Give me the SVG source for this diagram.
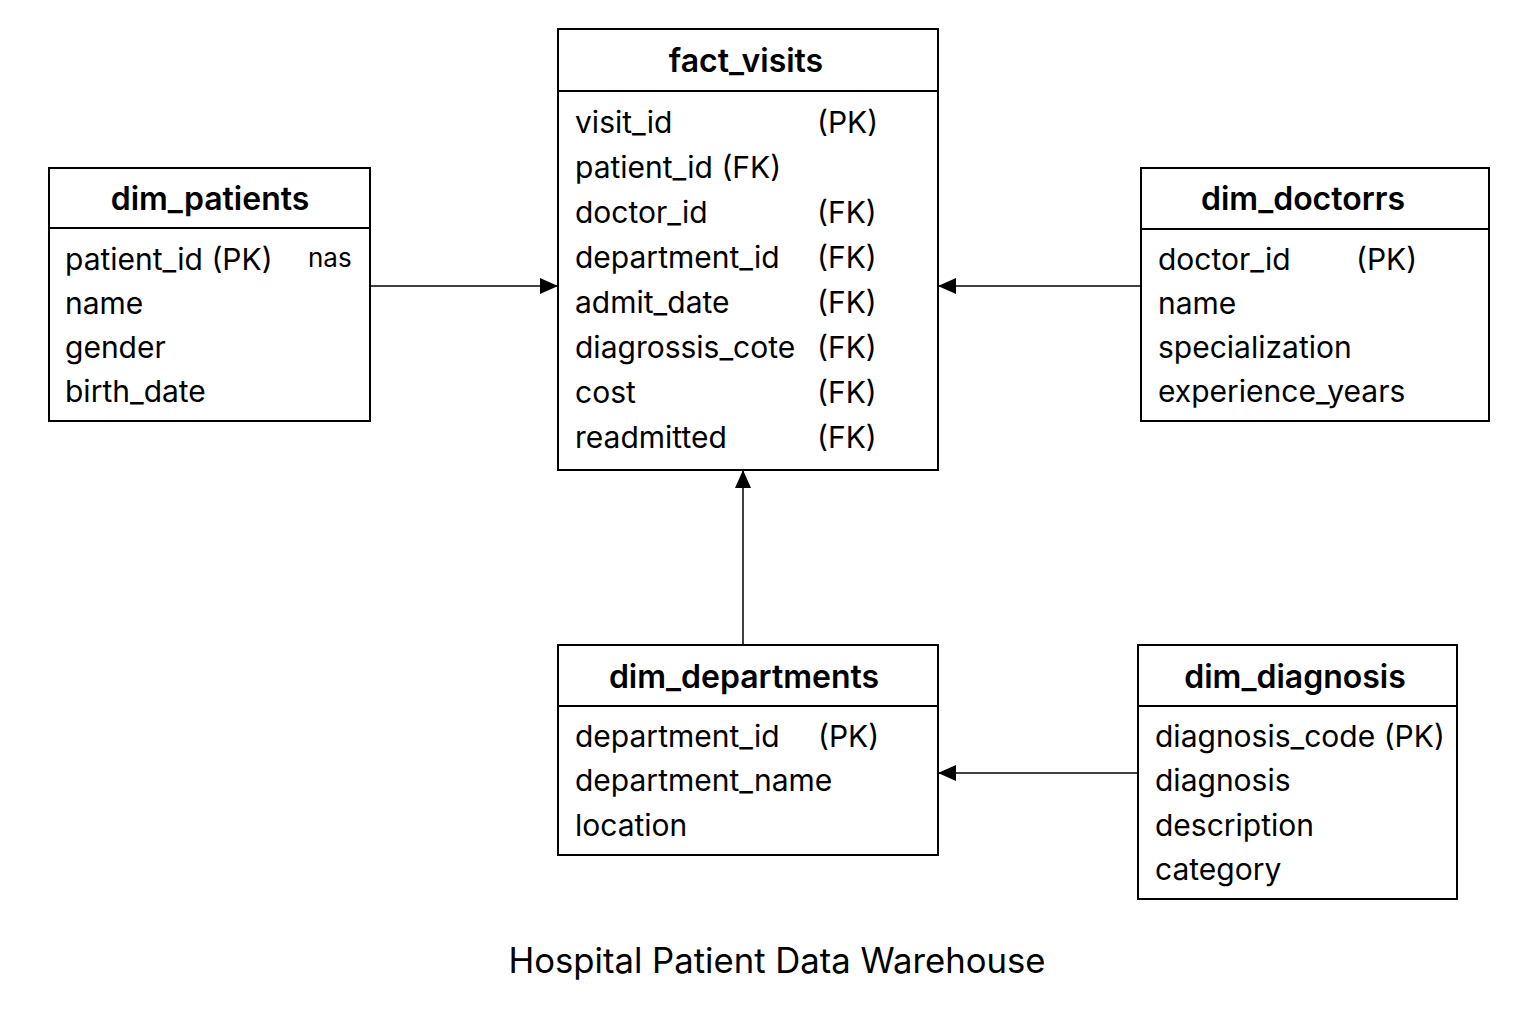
<svg xmlns="http://www.w3.org/2000/svg" width="1536" height="1024" viewBox="0 0 1536 1024">
<defs>
<style>
.box{fill:#fff;stroke:#000;stroke-width:2}
.sep{stroke:#000;stroke-width:2}
.hd{font-family:Inter,"Liberation Sans",sans-serif;font-weight:600;font-size:32px;fill:#000;text-anchor:middle}
.f{font-family:Inter,"Liberation Sans",sans-serif;font-size:30px;fill:#000}
.sm{font-family:Inter,"Liberation Sans",sans-serif;font-size:26px;fill:#000}
.ttl{font-family:Inter,"Liberation Sans",sans-serif;font-size:34.7px;fill:#000;text-anchor:middle}
.cn{stroke:#000;stroke-width:1.5;fill:none;marker-end:url(#ah)}
</style>
<marker id="ah" viewBox="0 0 10 10" refX="10" refY="5" markerWidth="18" markerHeight="16" markerUnits="userSpaceOnUse" orient="auto" preserveAspectRatio="none">
<path d="M0,0 L10,5 L0,10 z" fill="#000"/>
</marker>
</defs>
<rect width="1536" height="1024" fill="#fff"/>
<g id="connectors">
<line class="cn" x1="370" y1="286" x2="558" y2="286"/>
<line class="cn" x1="1141" y1="286" x2="938" y2="286"/>
<line class="cn" x1="743" y1="645" x2="743" y2="470"/>
<line class="cn" x1="1138" y1="773" x2="938" y2="773"/>
</g>
<g id="fact_visits">
<rect class="box" x="558" y="29" width="380" height="441"/>
<line class="sep" x1="558" y1="91" x2="938" y2="91"/>
<text class="hd" x="746" y="72">fact_visits</text>
<text class="f" x="575" y="133">visit_id</text><text class="f" x="817" y="133">(PK)</text>
<text class="f" x="575" y="178">patient_id (FK)</text>
<text class="f" x="575" y="223">doctor_id</text><text class="f" x="817" y="223">(FK)</text>
<text class="f" x="575" y="268">department_id</text><text class="f" x="817" y="268">(FK)</text>
<text class="f" x="575" y="313">admit_date</text><text class="f" x="817" y="313">(FK)</text>
<text class="f" x="575" y="358">diagrossis_cote</text><text class="f" x="817" y="358">(FK)</text>
<text class="f" x="575" y="403">cost</text><text class="f" x="817" y="403">(FK)</text>
<text class="f" x="575" y="448">readmitted</text><text class="f" x="817" y="448">(FK)</text>
</g>
<g id="dim_patients">
<rect class="box" x="49" y="168" width="321" height="253"/>
<line class="sep" x1="49" y1="228" x2="370" y2="228"/>
<text class="hd" x="210" y="210">dim_patients</text>
<text class="f" x="65" y="270">patient_id (PK)</text><text class="sm" x="308" y="267">nas</text>
<text class="f" x="65" y="314">name</text>
<text class="f" x="65" y="358">gender</text>
<text class="f" x="65" y="402">birth_date</text>
</g>
<g id="dim_doctorrs">
<rect class="box" x="1141" y="168" width="348" height="253"/>
<line class="sep" x1="1141" y1="229" x2="1489" y2="229"/>
<text class="hd" x="1303" y="210">dim_doctorrs</text>
<text class="f" x="1158" y="270">doctor_id</text><text class="f" x="1356" y="270">(PK)</text>
<text class="f" x="1158" y="314">name</text>
<text class="f" x="1158" y="358">specialization</text>
<text class="f" x="1158" y="402">experience_years</text>
</g>
<g id="dim_departments">
<rect class="box" x="558" y="645" width="380" height="210"/>
<line class="sep" x1="558" y1="706" x2="938" y2="706"/>
<text class="hd" x="744" y="688">dim_departments</text>
<text class="f" x="575" y="747">department_id</text><text class="f" x="818" y="747">(PK)</text>
<text class="f" x="575" y="791">department_name</text>
<text class="f" x="575" y="836">location</text>
</g>
<g id="dim_diagnosis">
<rect class="box" x="1138" y="645" width="319" height="254"/>
<line class="sep" x1="1138" y1="706" x2="1457" y2="706"/>
<text class="hd" x="1295" y="688">dim_diagnosis</text>
<text class="f" x="1155" y="747">diagnosis_code (PK)</text>
<text class="f" x="1155" y="791">diagnosis</text>
<text class="f" x="1155" y="836">description</text>
<text class="f" x="1155" y="880">category</text>
</g>
<text class="ttl" x="777" y="973">Hospital Patient Data Warehouse</text>
</svg>
